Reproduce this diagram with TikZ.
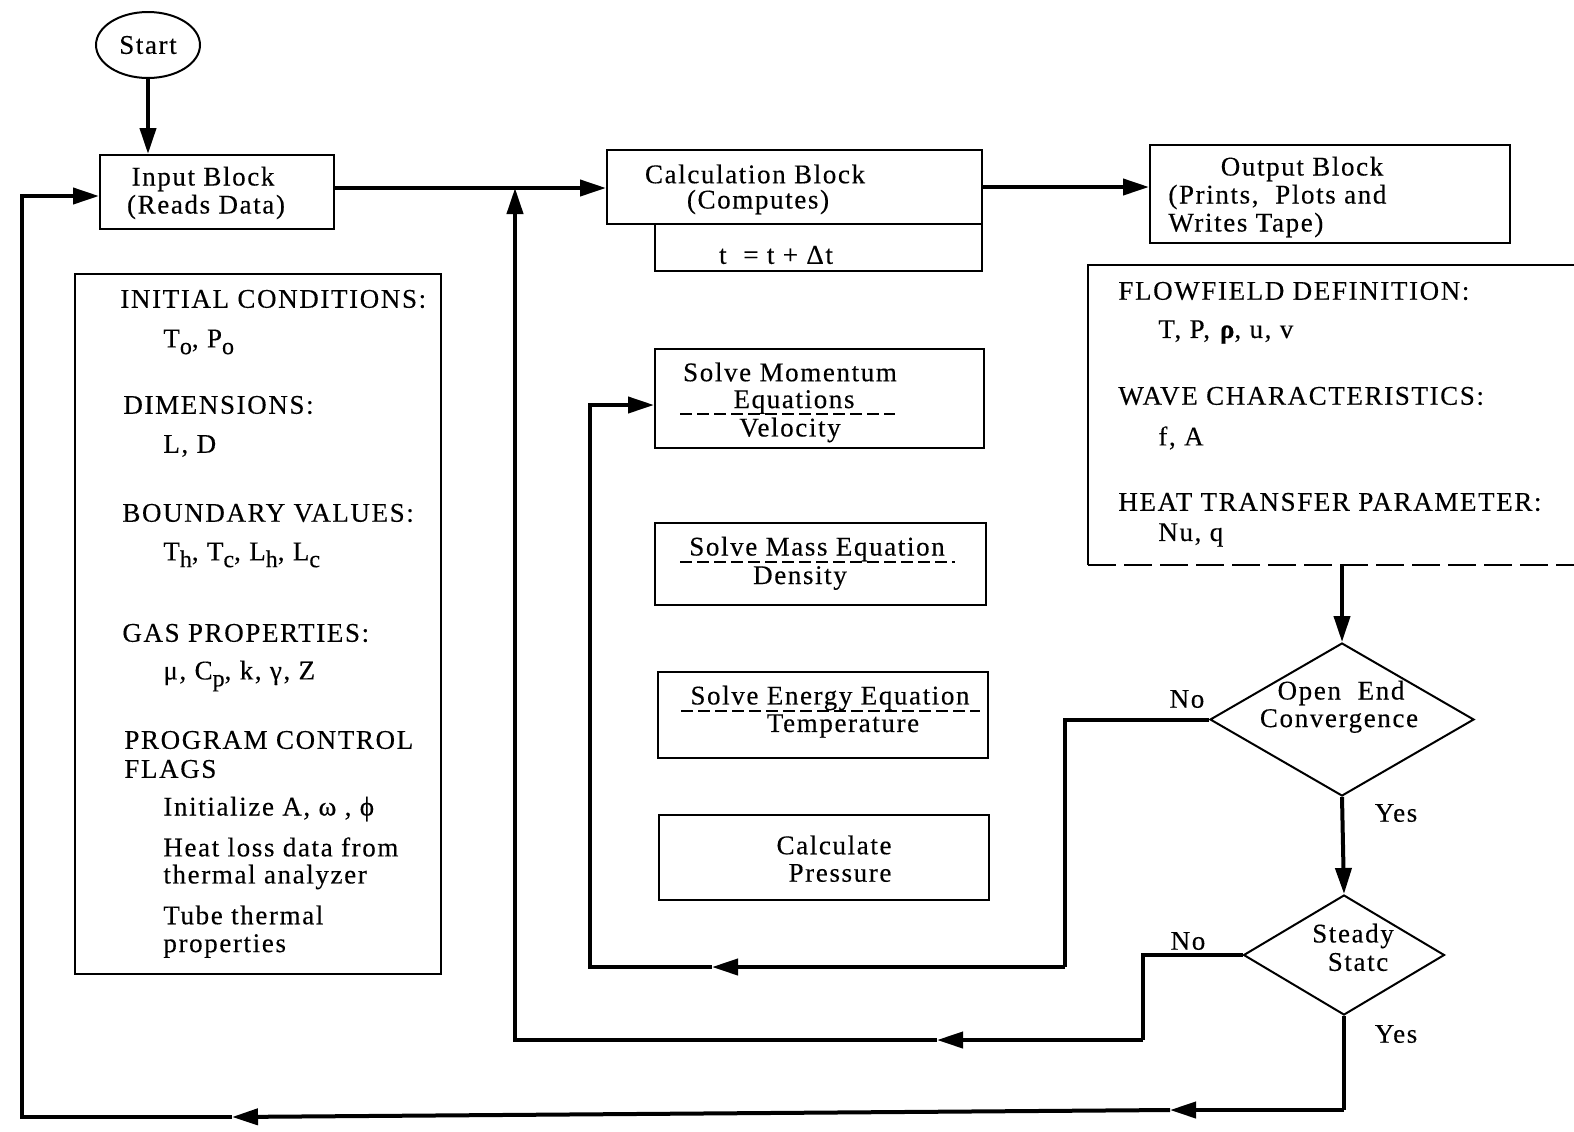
\documentclass[tikz,border=0pt]{standalone}
\usepackage{fontspec}
\setmainfont{Liberation Serif}[LetterSpace=6,FakeBold=0.3]
\usetikzlibrary{shapes.geometric,arrows.meta,calc}
\newcommand\mysub[1]{\raisebox{-0.55ex}{\fontsize{12}{14}\selectfont #1}}
\begin{document}
\begin{tikzpicture}[x=0.5pt,y=-0.5pt,
  box/.style={draw,line width=1pt,inner sep=0pt},
  txt/.style={font=\fontsize{13.5}{15}\selectfont,inner sep=0pt},
  conn/.style={line width=2pt},
  arrowend/.style={-{Triangle[length=13pt,width=8pt]}},
  dashu/.style={line width=0.8pt,dash pattern=on 6pt off 2.5pt}]
\useasboundingbox (0,0) rectangle (1574,1131);
% Start
\node[draw,ellipse,line width=1pt,minimum width=52pt,minimum height=33pt,inner sep=0pt,txt] (start) at (148,45) {Start};
% Input block
\node[box,minimum width=117pt,minimum height=37pt] (input) at (217,192) {};
\node[txt] (in1) at (203,179) {Input Block};
\node[txt] (in2) at (206,207) {(Reads Data)};
% Calculation block
\node[box,minimum width=187.5pt,minimum height=37pt] (calc) at (794.5,187) {};
\node[txt] (ca1) at (755,174) {Calculation Block};
\node[txt] (ca2) at (758,202) {(Computes)};
\node[box,minimum width=163.5pt,minimum height=23.5pt] (tstep) at (818.5,247.5) {};
\node[txt] (ts) at (776,255) {t \ = t + Δt};
% Output block
\node[box,minimum width=180pt,minimum height=49pt] (output) at (1330,194) {};
\node[txt] (ou1) at (1302,169) {Output Block};
\node[txt,anchor=west] (ou2) at (1168,197) {(Prints, \ Plots and};
\node[txt,anchor=west] (ou3) at (1168,225) {Writes Tape)};
% Info box
\node[box,minimum width=183pt,minimum height=350pt] (info) at (258,624) {};
\node[txt,anchor=west] (i1) at (120,299) {INITIAL CONDITIONS:};
\node[txt,anchor=west] (i2) at (163,342) {T\mysub{o}, P\mysub{o}};
\node[txt,anchor=west] (i3) at (123,405) {DIMENSIONS:};
\node[txt,anchor=west] (i4) at (163,446) {L, D};
\node[txt,anchor=west] (i5) at (122,513) {BOUNDARY VALUES:};
\node[txt,anchor=west] (i6) at (163,555) {T\mysub{h}, T\mysub{c}, L\mysub{h}, L\mysub{c}};
\node[txt,anchor=west] (i7) at (122,633) {GAS PROPERTIES:};
\node[txt,anchor=west] (i8) at (163,676) {μ, C\mysub{p}, k, γ, Z};
\node[txt,anchor=west] (i9) at (124,740) {PROGRAM CONTROL};
\node[txt,anchor=west] (i10) at (124,769) {FLAGS};
\node[txt,anchor=west] (i11) at (163,809) {Initialize A, ω , ϕ};
\node[txt,anchor=west] (i12) at (163,847) {Heat loss data from};
\node[txt,anchor=west] (i13) at (163,877) {thermal analyzer};
\node[txt,anchor=west] (i14) at (163,915) {Tube thermal};
\node[txt,anchor=west] (i15) at (163,946) {properties};
% Solve boxes
\node[box,minimum width=164.5pt,minimum height=49.5pt] (momentum) at (819.5,398.5) {};
\node[txt] (mo1) at (790,372) {Solve Momentum};
\node[txt] (mo2) at (794,402) {Equations};
\node[txt] (mo3) at (790,430) {Velocity};
\draw[dashu] (680,414) -- (895,414);
\node[box,minimum width=165.5pt,minimum height=41pt] (mass) at (820.5,564) {};
\node[txt] (ma1) at (817,549) {Solve Mass Equation};
\node[txt] (ma2) at (800,578) {Density};
\draw[dashu] (680,562) -- (955,562);
\node[box,minimum width=165pt,minimum height=43pt] (energy) at (823,715) {};
\node[txt] (en1) at (830,698) {Solve Energy Equation};
\node[txt] (en2) at (843,726) {Temperature};
\draw[dashu] (681,711) -- (980,711);
\node[box,minimum width=165pt,minimum height=42.5pt] (pressure) at (824,857.5) {};
\node[txt] (pr1) at (834,845) {Calculate};
\node[txt] (pr2) at (840,873) {Pressure};
% Flowfield (open) box
\coordinate (fftl) at (1088,265);
\coordinate (fftr) at (1574,265);
\coordinate (ffbl) at (1088,565);
\coordinate (ffbr) at (1574,565);
\coordinate (ffb) at (1342,565);
\draw[line width=1pt] (ffbl) -- (fftl) -- (fftr);
\draw[line width=1pt,dash pattern=on 14pt off 4pt] (ffbl) -- (ffbr);
\node[txt,anchor=west] (f1) at (1118,291) {FLOWFIELD DEFINITION:};
\node[txt,anchor=west] (f2) at (1158,332) {T, P, \textbf{ρ}, u, v};
\node[txt,anchor=west] (f3) at (1118,396) {WAVE CHARACTERISTICS:};
\node[txt,anchor=west] (f4) at (1158,438) {f, A};
\node[txt,anchor=west] (f5) at (1118,502) {HEAT TRANSFER PARAMETER:};
\node[txt,anchor=west] (f6) at (1158,535) {Nu, q};
% Diamonds
\node[draw,diamond,line width=1pt,minimum width=132pt,minimum height=76.5pt,inner sep=0pt] (open) at (1342,719.5) {};
\node[txt] (op1) at (1341,693) {Open \ End};
\node[txt] (op2) at (1339,721) {Convergence};
\node[draw,diamond,line width=1pt,minimum width=100.5pt,minimum height=60pt,inner sep=0pt] (steady) at (1344,955) {};
\node[txt] (st1) at (1353,936) {Steady};
\node[txt] (st2) at (1358,962) {Statc};
% Labels
\node[txt] (no1) at (1187,699) {No};
\node[txt] (yes1) at (1396,813) {Yes};
\node[txt] (no2) at (1188,941) {No};
\node[txt] (yes2) at (1396,1034) {Yes};
% Connectors
\coordinate (j1) at (515,188);
\draw[conn,arrowend] (start.south) -- (start.south |- input.north);
\draw[conn,arrowend] (input.east |- j1) -- (calc.west |- j1);
\draw[conn,arrowend] (calc.east) -- (calc.east -| output.west);
\draw[conn,arrowend] (ffb) -- (open.north);
\draw[conn,arrowend] (open.south) -- (steady.north);
% No loop 1
\coordinate (n1) at (1065,967);
\coordinate (n1tip) at (712,967);
\coordinate (n1c) at (590,967);
\coordinate (n1up) at (590,405);
\draw[conn] (open.west) -- (open.west -| n1) -- (n1);
\draw[conn,arrowend] (n1) -- (n1tip);
\draw[conn,arrowend] (n1tip) -- (n1c) -- (n1up) -- (n1up -| momentum.west);
% No loop 2
\coordinate (m1) at (1143,1040);
\coordinate (m1tip) at (937,1040);
\coordinate (m1c) at (515,1040);
\draw[conn] (steady.west) -- (steady.west -| m1) -- (m1);
\draw[conn,arrowend] (m1) -- (m1tip);
\draw[conn,arrowend] (m1tip) -- (m1c) -- (m1c |- j1);
% Yes loop
\coordinate (y1) at (1344,1110);
\coordinate (y1tip) at (1170,1110);
\coordinate (y2tip) at (232,1117);
\coordinate (y1c) at (22,1117);
\coordinate (y1top) at (22,196);
\draw[conn] (steady.south) -- (y1);
\draw[conn,arrowend] (y1) -- (y1tip);
\draw[conn,arrowend] (y1tip) -- (y2tip);
\draw[conn,arrowend] (y2tip) -- (y1c) -- (y1top) -- (y1top -| input.west);
\end{tikzpicture}
\end{document}
